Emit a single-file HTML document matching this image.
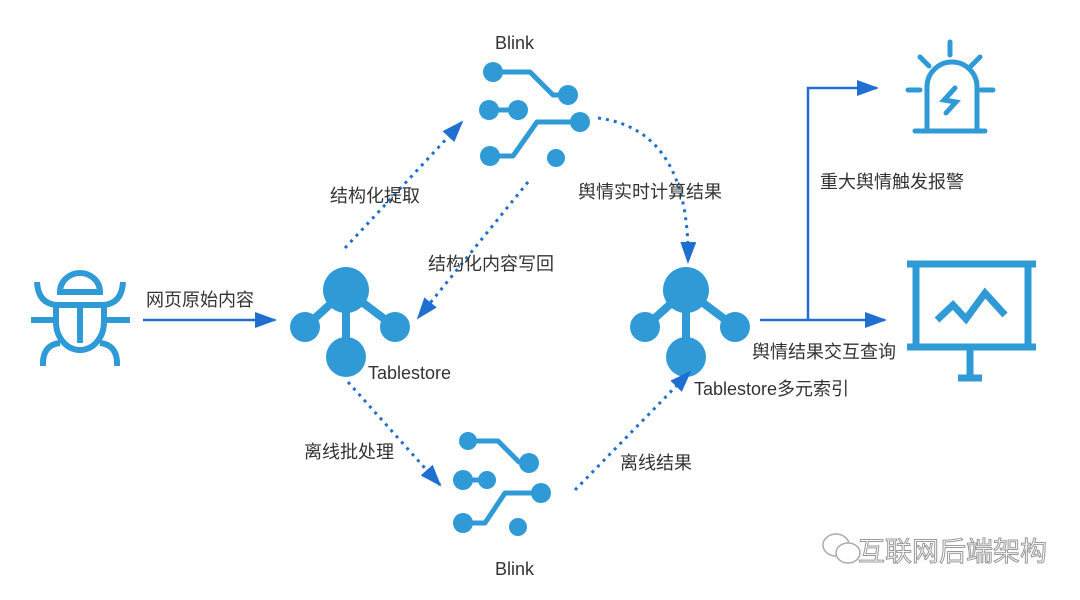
<!DOCTYPE html>
<html><head><meta charset="utf-8"><style>
html,body{margin:0;padding:0;background:#fff}
svg{display:block}
text{font-family:"Liberation Sans","Noto Sans CJK SC",sans-serif;fill:#333;font-size:18px}
</style></head><body>
<svg width="1080" height="600" viewBox="0 0 1080 600" xmlns="http://www.w3.org/2000/svg">
<defs>
<marker id="ab" markerWidth="22" markerHeight="16" refX="20" refY="8" orient="auto" markerUnits="userSpaceOnUse" viewBox="0 0 22 16">
<path d="M0,0 L22,8 L0,16 z" fill="#1f6fd0"/></marker>
</defs>

<!-- bug -->
<g stroke="#2f9ad6" stroke-width="6" fill="none">
<path d="M60,292 A20,19 0 0 1 100,292 Z"/>
<path d="M56,305 V322 A24,28 0 0 0 104,322 V305 Z"/>
<path d="M80,305 V343"/>
<path d="M37,282 Q38,303 56,305 M123,282 Q122,303 104,305"/>
<path d="M31,320 H56 M104,320 H130"/>
<path d="M43,366 Q42,345 60,343 M117,366 Q118,345 100,343"/>
</g>

<!-- arrow 网页原始内容 -->
<line x1="143" y1="320" x2="275" y2="320" stroke="#1f6fd0" stroke-width="2.5" marker-end="url(#ab)"/>
<text x="146" y="306">网页原始内容</text>

<!-- Tablestore 1 -->
<g fill="#2f9ad6" stroke="#2f9ad6" stroke-width="8">
<line x1="346" y1="290" x2="305" y2="327"/><line x1="346" y1="290" x2="395" y2="327"/><line x1="346" y1="290" x2="346" y2="357"/>
<circle cx="346" cy="290" r="23" stroke="none"/><circle cx="305" cy="327" r="15" stroke="none"/><circle cx="395" cy="327" r="15" stroke="none"/><circle cx="346" cy="357" r="20" stroke="none"/>
</g>
<text x="368" y="379">Tablestore</text>

<!-- Tablestore 2 -->
<g fill="#2f9ad6" stroke="#2f9ad6" stroke-width="8">
<line x1="686" y1="290" x2="645" y2="327"/><line x1="686" y1="290" x2="735" y2="327"/><line x1="686" y1="290" x2="686" y2="357"/>
<circle cx="686" cy="290" r="23" stroke="none"/><circle cx="645" cy="327" r="15" stroke="none"/><circle cx="735" cy="327" r="15" stroke="none"/><circle cx="686" cy="357" r="20" stroke="none"/>
</g>
<text x="694" y="395">Tablestore多元索引</text>

<!-- Blink top -->
<g fill="#2f9ad6" stroke="#2f9ad6" stroke-width="5" stroke-linejoin="round">
<polyline fill="none" points="493,72 530,72 553,95 568,95"/>
<line x1="489" y1="110" x2="518" y2="110"/>
<polyline fill="none" points="580,122 537,122 513,156 490,156"/>
<circle cx="493" cy="72" r="10" stroke="none"/><circle cx="568" cy="95" r="10" stroke="none"/>
<circle cx="489" cy="110" r="10" stroke="none"/><circle cx="518" cy="110" r="10" stroke="none"/>
<circle cx="580" cy="122" r="10" stroke="none"/><circle cx="490" cy="156" r="10" stroke="none"/>
<circle cx="556" cy="158" r="9" stroke="none"/>
</g>
<text x="495" y="49">Blink</text>

<!-- Blink bottom -->
<g fill="#2f9ad6" stroke="#2f9ad6" stroke-width="5" stroke-linejoin="round">
<polyline fill="none" points="468,441 498,441 519,462 529,462"/>
<line x1="463" y1="480" x2="487" y2="480"/>
<polyline fill="none" points="541,493 505,493 485,523 463,523"/>
<circle cx="468" cy="441" r="9" stroke="none"/><circle cx="529" cy="463" r="10" stroke="none"/>
<circle cx="463" cy="480" r="10" stroke="none"/><circle cx="487" cy="480" r="9" stroke="none"/>
<circle cx="541" cy="493" r="10" stroke="none"/><circle cx="463" cy="523" r="10" stroke="none"/>
<circle cx="518" cy="527" r="9" stroke="none"/>
</g>
<text x="495" y="575">Blink</text>

<!-- dotted arrows -->
<g stroke="#1f6fd0" stroke-width="3" stroke-dasharray="3,5" fill="none">
<line x1="345" y1="248" x2="462" y2="122" marker-end="url(#ab)"/>
<line x1="528" y1="182" x2="418" y2="318" marker-end="url(#ab)"/>
<path d="M598,118 Q690,130 688,262" marker-end="url(#ab)"/>
<line x1="348" y1="382" x2="440" y2="485" marker-end="url(#ab)"/>
<line x1="575" y1="490" x2="690" y2="372" marker-end="url(#ab)"/>
</g>
<text x="330" y="202">结构化提取</text>
<text x="428" y="270">结构化内容写回</text>
<text x="578" y="198">舆情实时计算结果</text>
<text x="304" y="458">离线批处理</text>
<text x="620" y="469">离线结果</text>

<!-- right arrows -->
<g stroke="#1f6fd0" stroke-width="2.5" fill="none">
<line x1="760" y1="320" x2="885" y2="320" marker-end="url(#ab)"/>
<polyline points="808,320 808,88 877,88" marker-end="url(#ab)"/>
</g>
<text x="820" y="188">重大舆情触发报警</text>
<text x="752" y="358">舆情结果交互查询</text>

<!-- alarm -->
<g stroke="#2f9ad6" stroke-width="5" fill="none" stroke-linecap="round">
<path d="M927,130 V87 A25,25 0 0 1 977,87 V130"/>
<line x1="915" y1="131" x2="985" y2="131"/>
<line x1="950" y1="42" x2="950" y2="55"/>
<line x1="920" y1="57" x2="929" y2="66"/><line x1="980" y1="57" x2="971" y2="66"/>
<line x1="908" y1="90" x2="920" y2="90"/><line x1="981" y1="90" x2="993" y2="90"/>
<polyline points="955,88 944,100 956,102 946,113"/>
</g>

<!-- monitor -->
<g stroke="#2f9ad6" stroke-width="7" fill="none">
<line x1="907" y1="264" x2="1036" y2="264"/>
<rect x="916" y="264" width="112" height="83"/>
<line x1="907" y1="347" x2="1036" y2="347"/>
<line x1="970" y1="347" x2="970" y2="378"/>
<line x1="958" y1="378" x2="982" y2="378"/>
<polyline points="937,320 953,305 966,319 985,293 1005,315"/>
</g>

<!-- watermark -->
<g stroke="#aaa" stroke-width="1.5" fill="#fff">
<ellipse cx="836" cy="545" rx="13" ry="11"/>
<ellipse cx="848" cy="553" rx="12" ry="10"/>
</g>
<text x="858" y="561" style="font-size:27px;fill:#fff;stroke:#999;stroke-width:1">互联网后端架构</text>
</svg>
</body></html>
